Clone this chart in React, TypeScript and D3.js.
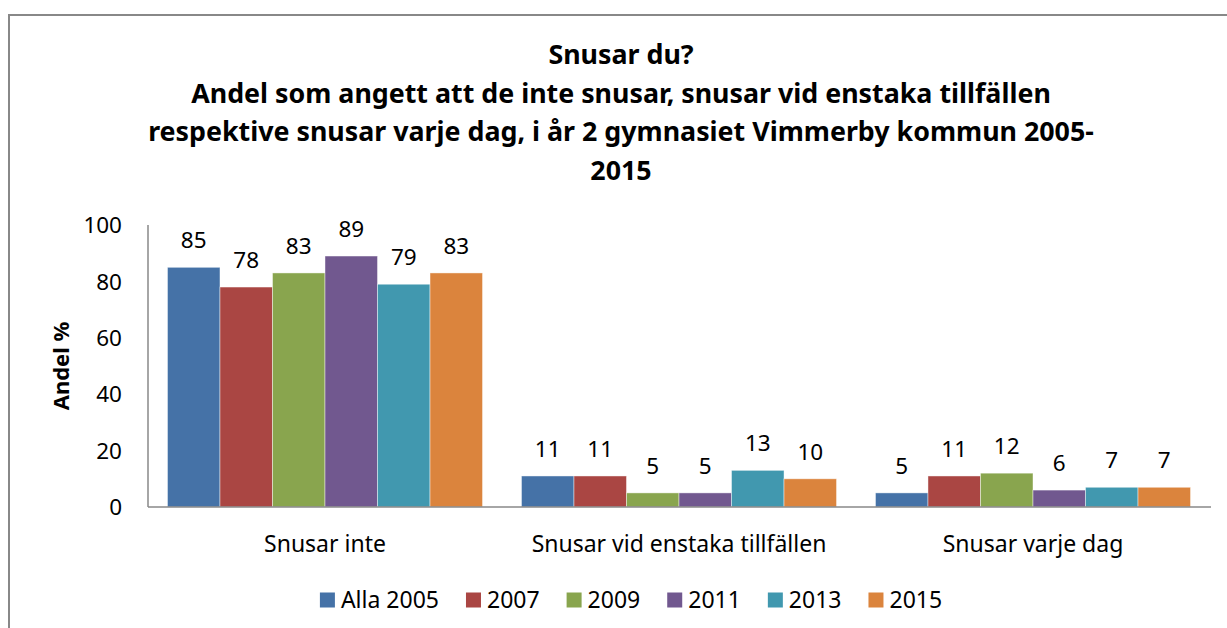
import React from "react";
import * as d3 from "d3";

const categories = ["Snusar inte", "Snusar vid enstaka tillfällen", "Snusar varje dag"];
const seriesNames = ["Alla 2005", "2007", "2009", "2011", "2013", "2015"];
const values2005 = [85, 11, 5];
const values2007 = [78, 11, 11];
const values2009 = [83, 5, 12];
const values2011 = [89, 5, 6];
const values2013 = [79, 13, 7];
const values2015 = [83, 10, 7];
const seriesValues = [values2005, values2007, values2009, values2011, values2013, values2015];
const colors = ["#4572A7", "#AA4643", "#89A54E", "#71588F", "#4198AF", "#DB843D"];
const yTicks = [0, 20, 40, 60, 80, 100];
const titleLines = [
  "Snusar du?",
  "Andel som angett att de inte snusar, snusar vid enstaka tillfällen",
  "respektive snusar varje dag, i år 2 gymnasiet Vimmerby kommun 2005-",
  "2015",
];
const yAxisTitle = "Andel %";

const FONT = "'Noto Sans', 'Open Sans', sans-serif";

function measure(text: string, font: string): number {
  const c = document.createElement("canvas");
  const ctx = c.getContext("2d")!;
  ctx.font = font;
  return ctx.measureText(text).width;
}

export default function App() {
  const W = 1227;
  const H = 628;
  const left = 148;
  const right = 1210;
  const top = 225;
  const bottom = 507;

  const y = d3.scaleLinear().domain([0, 100]).range([bottom, top]);
  const x0 = d3.scaleBand<string>().domain(categories).range([left, right]).padding(0);
  const bw = x0.bandwidth();
  const gap = bw * 0.11;
  const x1 = d3
    .scaleBand<string>()
    .domain(seriesNames)
    .range([gap / 2, bw - gap / 2])
    .padding(0);

  const legendFontSize = 23;
  const legendFont = `${legendFontSize}px 'Noto Sans'`;
  const sq = 15;
  const sqGap = 6;
  const itemGap = 27;
  const widths = seriesNames.map((s) => measure(s, legendFont));
  const itemWidths = widths.map((w) => sq + sqGap + w);
  const totalW = d3.sum(itemWidths) + itemGap * (seriesNames.length - 1);
  const legendCenter = 631;
  let cursor = legendCenter - totalW / 2;
  const legendX = itemWidths.map((w) => {
    const xx = cursor;
    cursor += w + itemGap;
    return xx;
  });
  const legendY = 600;

  const titleBaselines = [64, 102.5, 141, 179.5];

  return (
    <svg
      width={W}
      height={H}
      style={{ position: "absolute", left: 0, top: 0, display: "block", background: "#fff" }}
      fontFamily={FONT}
    >
      <rect x={0} y={0} width={W} height={H} fill="#fff" />
      <rect x={9} y={15} width={W + 20} height={H + 20} fill="#fff" stroke="#888888" strokeWidth={2} />

      {titleLines.map((t, i) => (
        <text
          key={i}
          x={621}
          y={titleBaselines[i]}
          textAnchor="middle"
          fontWeight="bold"
          fontSize={26.8}
          fill="#000"
        >
          {t}
        </text>
      ))}

      {/* bars */}
      {categories.map((cat, ci) => (
        <g key={cat} transform={`translate(${x0(cat)},0)`}>
          {seriesNames.map((s, si) => {
            const v = seriesValues[si][ci];
            const bx = x1(s)!;
            const by = y(v);
            return (
              <g key={s}>
                <rect
                  x={bx}
                  y={by}
                  width={x1.bandwidth()}
                  height={bottom - by}
                  fill={colors[si]}
                  stroke="#ffffff"
                  strokeOpacity={0.55}
                  strokeWidth={0.8}
                />
                <text
                  x={bx + x1.bandwidth() / 2}
                  y={by - 19}
                  textAnchor="middle"
                  fontSize={22.5}
                  fill="#000"
                >
                  {v}
                </text>
              </g>
            );
          })}
        </g>
      ))}

      {/* axes */}
      <line x1={left} x2={left} y1={top} y2={bottom} stroke="#888888" strokeWidth={1.5} />
      <line x1={left} x2={right + 1} y1={bottom} y2={bottom} stroke="#888888" strokeWidth={1.5} />

      {yTicks.map((t) => (
        <text key={t} x={122} y={y(t)} dy="0.36em" textAnchor="end" fontSize={22.5} fill="#000">
          {t}
        </text>
      ))}

      {categories.map((cat) => (
        <text
          key={cat}
          x={x0(cat)! + bw / 2}
          y={552}
          textAnchor="middle"
          fontSize={23}
          fill="#000"
        >
          {cat}
        </text>
      ))}

      <text
        transform={`translate(69,366) rotate(-90)`}
        textAnchor="middle"
        fontWeight="bold"
        fontSize={22}
        fill="#000"
      >
        {yAxisTitle}
      </text>

      {/* legend */}
      {seriesNames.map((s, i) => (
        <g key={s} transform={`translate(${legendX[i]},${legendY})`}>
          <rect x={0} y={-sq / 2} width={sq} height={sq} fill={colors[i]} />
          <text x={sq + sqGap} y={0} dy="0.36em" fontSize={legendFontSize} fill="#000">
            {s}
          </text>
        </g>
      ))}
    </svg>
  );
}
